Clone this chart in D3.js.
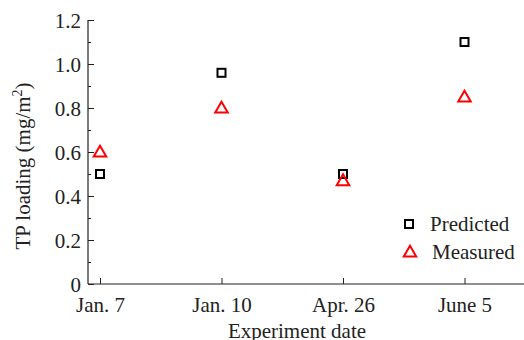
<!DOCTYPE html>
<html>
<head>
<meta charset="utf-8">
<script src="https://cdn.jsdelivr.net/npm/d3@7"></script>
<style>
    body { margin: 0; background: #fff; }
    svg text { font-family: "Liberation Serif", "Times New Roman", serif; fill: #222; }
</style>
</head>
<body>
<svg id="chart" width="524" height="340"></svg>
<script>
// Chart data
const dates = ["Jan. 7", "Jan. 10", "Apr. 26", "June 5"];
const predicted = [0.50, 0.96, 0.50, 1.10];
const measured = [0.60, 0.80, 0.47, 0.85];
const yTicks = [0, 0.2, 0.4, 0.6, 0.8, 1.0, 1.2];
const yMinorTicks = [0.1, 0.3, 0.5, 0.7, 0.9, 1.1];

const svg = d3.select("#chart");

const x = d3.scalePoint()
    .domain(dates)
    .range([100, 464.5]);

const y = d3.scaleLinear()
    .domain([0, 1.2])
    .range([284, 20]);

const axisLeft = 88;
const axisBottom = 284;

// Y axis (ticks pointing inward)
const yAxis = svg.append("g")
    .attr("transform", `translate(${axisLeft},0)`)
    .call(d3.axisRight(y)
        .tickValues(yTicks)
        .tickSize(6)
        .tickFormat(d => d === 0 ? "0" : d3.format(".1f")(d)));
yAxis.select(".domain").remove();
yAxis.selectAll("text")
    .attr("x", -7)
    .attr("dy", "0.35em")
    .attr("text-anchor", "end")
    .style("font-size", "21px");

// minor ticks
svg.append("g")
    .attr("transform", `translate(${axisLeft},0)`)
    .call(d3.axisRight(y).tickValues(yMinorTicks).tickSize(3).tickFormat(""))
    .call(g => g.select(".domain").remove());

svg.append("line")
    .attr("x1", axisLeft).attr("x2", axisLeft)
    .attr("y1", 20).attr("y2", axisBottom)
    .attr("stroke", "#222").attr("stroke-width", 1.2);

// X axis
const xAxis = svg.append("g")
    .attr("transform", `translate(0,${axisBottom})`)
    .call(d3.axisTop(x).tickSize(6));
xAxis.select(".domain").remove();
xAxis.selectAll("text")
    .attr("y", 28)
    .attr("dy", 0)
    .style("font-size", "21px");

svg.append("line")
    .attr("x1", axisLeft).attr("x2", 524)
    .attr("y1", axisBottom).attr("y2", axisBottom)
    .attr("stroke", "#222").attr("stroke-width", 1.2);

svg.selectAll(".tick line").attr("stroke", "#222");

// Axis titles
svg.append("text")
    .attr("x", 297)
    .attr("y", 338)
    .attr("text-anchor", "middle")
    .style("font-size", "21px")
    .text("Experiment date");

const yTitle = svg.append("text")
    .attr("transform", "translate(30,166) rotate(-90)")
    .attr("text-anchor", "middle")
    .style("font-size", "21px");
yTitle.append("tspan").text("TP loading (mg/m");
yTitle.append("tspan").attr("dy", -8).style("font-size", "14px").text("2");
yTitle.append("tspan").attr("dy", 8).text(")");

// Markers
const tri = d3.symbol().type(d3.symbolTriangle).size(68);

svg.selectAll(".pred")
    .data(predicted)
    .enter()
    .append("rect")
    .attr("class", "pred")
    .attr("x", (d, i) => x(dates[i]) - 4)
    .attr("y", d => y(d) - 4)
    .attr("width", 8)
    .attr("height", 8)
    .attr("fill", "none")
    .attr("stroke", "#000")
    .attr("stroke-width", 2);

svg.selectAll(".meas")
    .data(measured)
    .enter()
    .append("path")
    .attr("class", "meas")
    .attr("d", tri)
    .attr("transform", (d, i) => `translate(${x(dates[i])},${y(d) + 1})`)
    .attr("fill", "none")
    .attr("stroke", "#f00")
    .attr("stroke-width", 2);

// Legend
const legend = svg.append("g");
legend.append("rect")
    .attr("x", 405).attr("y", 220)
    .attr("width", 8).attr("height", 8)
    .attr("fill", "none").attr("stroke", "#000").attr("stroke-width", 2);
legend.append("text")
    .attr("x", 430).attr("y", 231)
    .style("font-size", "21px")
    .text("Predicted");
legend.append("path")
    .attr("d", tri)
    .attr("transform", "translate(410,253)")
    .attr("fill", "none").attr("stroke", "#f00").attr("stroke-width", 2);
legend.append("text")
    .attr("x", 432).attr("y", 259)
    .style("font-size", "21px")
    .text("Measured");
</script>
</body>
</html>
